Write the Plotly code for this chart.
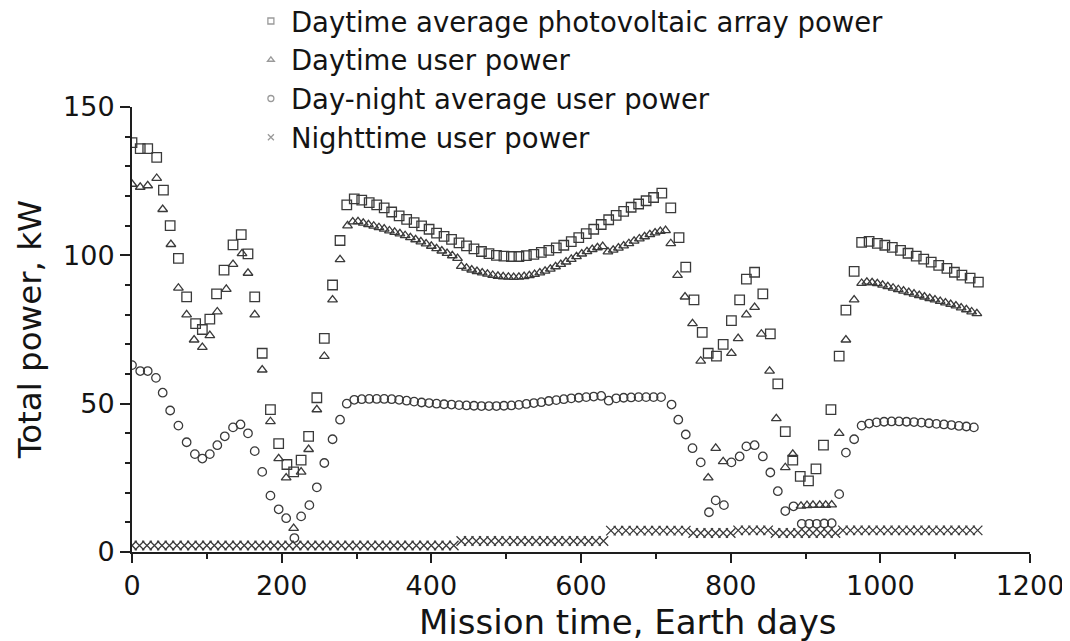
import plotly.graph_objects as go

# ---------------- data ----------------
pv_days = [0, 11, 21, 33, 42, 51, 62, 73, 85, 94, 104, 113, 123, 135, 146, 155, 164, 174, 185, 196,
           207, 216, 226, 236, 247, 257, 268, 278, 287,
           297, 307, 317, 327, 337, 347, 357, 367, 377, 387, 397, 407, 417, 427, 437, 447, 457, 467, 477, 487,
           497, 507, 517, 527, 537, 547, 557, 567, 577, 587, 597, 607, 617, 627, 637, 647, 657, 667, 677, 687,
           697, 708,
           720, 731, 740, 751, 762, 770, 781, 790, 801, 812, 821, 832, 843, 853, 863, 873, 883, 893, 904, 914,
           924, 934, 945, 954, 965,
           975, 985, 996, 1006, 1016, 1027, 1037, 1048, 1058, 1068, 1078, 1089, 1099, 1109, 1120, 1131]
pv_kw = [138, 136, 136, 133, 122, 110, 99, 86, 77, 75, 78.5, 87, 95, 103.5, 107, 100.5, 86, 67, 48, 36.5,
         29.5, 27, 31, 39, 52, 72, 90, 105, 117,
         119, 118.6, 117.8, 117, 116, 114.6, 113.3, 112.1, 111, 109.9, 108.8, 107.5, 106.4, 105.4, 104.2, 103.2,
         102.2, 101.3, 100.6, 100, 99.7, 99.6, 99.6, 99.9, 100.3, 101, 101.7, 102.5, 103.4, 104.6, 106, 107.3,
         108.8, 110.4, 112, 113.5, 114.8, 116.2, 117.3, 118.4, 119.5, 121,
         116, 106, 96, 85, 74, 67, 66, 70, 78, 85, 92, 94.3, 87, 73.5, 56.7, 40.6, 31, 25.5, 24, 28,
         36, 48, 66, 81.5, 94.6,
         104.4, 104.7, 104, 103.4, 102.7, 101.7, 100.7, 99.7, 98.7, 97.7, 96.6, 95.6, 94.3, 93.3, 92.3, 91]

user_days = [0, 11, 21, 33, 41, 52, 62, 73, 83, 94, 104, 114, 126, 135, 147, 155, 164, 174, 185, 196,
             206, 216, 226, 236, 247, 257, 268, 278,
             288, 295, 302, 309, 316, 323, 330, 337, 344, 351, 358, 365, 372, 379, 386, 393, 400, 407, 414,
             421, 428, 435,
             440, 447, 454, 461, 468, 475, 482, 489, 496, 503, 510, 517, 524, 531, 538, 545, 552, 559, 566,
             573, 580, 587, 594, 601, 608, 615, 622, 629, 636, 643, 650, 657, 664, 671, 678, 685, 692, 699,
             706, 713,
             720, 729, 739, 749, 760, 770, 780, 790, 801, 810, 821, 832, 841, 852, 861, 873, 883, 894, 902,
             910, 919, 927, 935, 945, 954, 965,
             975, 982, 989, 996, 1003, 1010, 1017, 1024, 1031, 1038, 1045, 1052, 1059, 1066, 1073, 1080,
             1087, 1094, 1101, 1108, 1115, 1122, 1129]
user_kw = [124, 123, 123.5, 126, 115.5, 103.7, 89, 80, 71.5, 69, 73, 81, 88.6, 97, 100.6, 94, 80, 61.4, 44, 31.5,
           25, 8, 27, 34.6, 48, 66, 85, 98.6,
           110, 111.3, 111.4, 110.9, 110.4, 109.9, 109.4, 108.9, 108.3, 107.8, 107.3, 106.7, 106.0, 105.3,
           104.6, 103.9, 103.1, 102.3, 101.5, 100.7, 99.9, 99.0,
           96.3, 95.7, 95.1, 94.6, 94.1, 93.7, 93.3, 93.0, 92.8, 92.7, 92.6, 92.7, 92.9, 93.2, 93.6, 94.1,
           94.7, 95.4, 96.2, 97.0, 97.8, 98.7, 99.6, 100.5, 101.3, 102.0, 102.6, 103.0, 101.2, 101.8, 102.5,
           103.2, 104.0, 104.8, 105.6, 106.3, 107.0, 107.6, 108.1, 108.4,
           104, 93.3, 86, 77, 64.4, 25, 35, 30.5, 67, 72, 80, 82.5, 73.5, 61, 45, 28.5, 33, 15.5, 15.7,
           15.8, 15.8, 15.8, 15.9, 40, 71.5, 85,
           90.6, 91, 90.8, 90.5, 90.0, 89.5, 89.0, 88.5, 88.0, 87.5, 87.0, 86.5, 86.0, 85.5, 85.0, 84.5,
           84.0, 83.5, 83.0, 82.3, 81.7, 81.0, 80.4]

avg_days = [0, 11, 21, 32, 41, 51, 62, 73, 84, 94, 104, 114, 124, 135, 145, 155, 164, 174, 185, 196,
            206, 217, 226, 237, 247, 257, 268, 278, 287,
            297, 307, 317, 327, 337, 347, 357, 367, 377, 387, 397, 407, 417, 427, 437, 447, 457, 467, 477,
            487, 497, 507, 517, 527, 537, 547, 557, 567, 577, 587, 597, 607, 617, 627, 637, 647, 657, 667,
            677, 687, 697, 707,
            721, 730, 740, 749, 760, 771, 780, 791, 801, 812, 821, 832, 843, 853, 863, 873, 884, 895, 905,
            915, 925, 935, 945, 954, 965,
            975, 985, 995, 1005, 1015, 1025, 1035, 1045, 1055, 1065, 1075, 1085, 1095, 1105, 1115, 1125]
avg_kw = [63, 61, 61, 58.7, 53.7, 47.7, 42.6, 37, 33, 31.5, 33, 36, 39, 42, 43, 40, 34, 27, 19, 14.4,
          11.4, 4.7, 12, 15.8, 21.8, 30, 38, 44.6, 50,
          51.3, 51.5, 51.6, 51.6, 51.6, 51.5, 51.3, 51, 50.7, 50.4, 50.2, 50, 49.8, 49.7, 49.5, 49.4, 49.3,
          49.2, 49.2, 49.2, 49.3, 49.4, 49.6, 49.9, 50.2, 50.5, 50.9, 51.2, 51.5, 51.8, 52, 52.2, 52.4, 52.6,
          51, 51.8, 52, 52.1, 52.2, 52.2, 52.2, 52.2,
          49.7, 44.6, 39.6, 35, 30.2, 13.4, 17.4, 15.8, 30.2, 32.2, 35.6, 36, 32.2, 26.8, 20.5, 13.8, 15.4,
          9.5, 9.5, 9.5, 9.6, 9.7, 19.5, 33.5, 38,
          42.6, 43.3, 43.7, 43.9, 44, 44, 43.9, 43.8, 43.6, 43.4, 43.2, 43, 42.8, 42.5, 42.3, 42.0]

night_days = [0, 10, 20, 30, 40, 50, 60, 70, 80, 90, 100, 110, 120, 130, 140, 150, 160, 170, 180, 190,
              200, 210, 220, 230, 240, 250, 260, 270, 280, 290, 300, 310, 320, 330, 340, 350, 360, 370,
              380, 390, 400, 410, 420, 430, 440, 450, 460, 470, 480, 490, 500, 510, 520, 530, 540, 550,
              560, 570, 580, 590, 600, 610, 620, 630, 640, 650, 660, 670, 680, 690, 700, 710, 720, 730,
              740, 750, 760, 770, 780, 790, 800, 810, 820, 830, 840, 850, 860, 870, 880, 890, 900, 910,
              920, 930, 940, 950, 960, 970, 980, 990, 1000, 1010, 1020, 1030, 1040, 1050, 1060, 1070,
              1080, 1090, 1100, 1110, 1120, 1130]
night_kw = [2.2, 2.2, 2.2, 2.2, 2.2, 2.2, 2.2, 2.2, 2.2, 2.2, 2.2, 2.2, 2.2, 2.2, 2.2, 2.2, 2.2, 2.2, 2.2, 2.2,
            2.2, 2.2, 2.2, 2.2, 2.2, 2.2, 2.2, 2.2, 2.2, 2.2, 2.2, 2.2, 2.2, 2.2, 2.2, 2.2, 2.2, 2.2,
            2.2, 2.2, 2.2, 2.2, 2.2, 2.2, 3.7, 3.7, 3.7, 3.7, 3.7, 3.7, 3.7, 3.7, 3.7, 3.7, 3.7, 3.7,
            3.7, 3.7, 3.7, 3.7, 3.7, 3.7, 3.7, 3.7, 7.2, 7.2, 7.2, 7.2, 7.2, 7.2, 7.2, 7.2, 7.2, 7.2,
            7.2, 6.4, 6.4, 6.4, 6.4, 6.4, 6.4, 7.3, 7.3, 7.3, 7.3, 7.3, 6.4, 6.4, 6.4, 6.4, 6.4, 6.4,
            6.4, 6.4, 6.4, 7.3, 7.3, 7.3, 7.3, 7.3, 7.3, 7.3, 7.3, 7.3, 7.3, 7.3, 7.3, 7.3,
            7.3, 7.3, 7.3, 7.3, 7.3, 7.3]

series_names = ["Daytime average photovoltaic array power", "Daytime user power",
                "Day-night average user power", "Nighttime user power"]
x_ticks = [0, 200, 400, 600, 800, 1000, 1200]
y_ticks = [0, 50, 100, 150]
x_title = "Mission time, Earth days"
y_title = "Total power, kW"

# ---------------- styling ----------------
FONT = "DejaVu Sans, Verdana, sans-serif"
TXT = "#141414"
MK = "#3a3a3a"
LEG = "#9a9a9a"

fig = go.Figure()
specs = [
    (pv_days, pv_kw, "square-open", 9.5),
    (user_days, user_kw, "triangle-up-open", 8.5),
    (avg_days, avg_kw, "circle-open", 8.5),
    (night_days, night_kw, "x-thin-open", 9.5),
]
for (xs, ys, sym, sz), name in zip(specs, series_names):
    fig.add_trace(go.Scatter(
        x=xs, y=ys, mode="markers", name=name, legendgroup=name, showlegend=False,
        marker=dict(symbol=sym, size=sz, color=MK, line=dict(color=MK, width=1.3)),
        hoverinfo="x+y"))
    # legend proxy (small grey symbol, as in the reference)
    fig.add_trace(go.Scatter(
        x=[None], y=[None], mode="markers", name=name, legendgroup=name, showlegend=True,
        marker=dict(symbol=sym, size=6, color=LEG, line=dict(color=LEG, width=1.3))))

fig.update_layout(
    width=1070, height=641,
    margin=dict(l=124, r=48, t=99, b=97, autoexpand=False),
    paper_bgcolor="white", plot_bgcolor="white",
    font=dict(family=FONT, size=27, color=TXT),
    legend=dict(
        xref="container", yref="paper", x=0.227, y=1.248, xanchor="left", yanchor="top",
        bgcolor="rgba(0,0,0,0)", font=dict(size=27.5, color=TXT),
        tracegroupgap=0, itemsizing="trace", itemwidth=30,
    ),
    xaxis=dict(
        range=[0, 1200], tickvals=x_ticks, ticktext=[str(v) for v in x_ticks],
        showgrid=False, zeroline=False, showline=True, linecolor="#1e1e1e", linewidth=2,
        ticks="outside", ticklen=9, tickwidth=2, tickcolor="#1e1e1e",
        minor=dict(dtick=100, ticks="outside", ticklen=5, tickwidth=1.5, tickcolor="#1e1e1e"),
        tickfont=dict(size=27),
    ),
    yaxis=dict(
        range=[0, 150], tickvals=y_ticks, ticktext=[str(v) for v in y_ticks],
        showgrid=False, zeroline=False, showline=True, linecolor="#1e1e1e", linewidth=2,
        ticks="outside", ticklen=10, tickwidth=2, tickcolor="#1e1e1e",
        minor=dict(dtick=10, ticks="outside", ticklen=5, tickwidth=1.5, tickcolor="#1e1e1e"),
        tickfont=dict(size=27),
    ),
    annotations=[
        dict(text=x_title, xref="paper", yref="paper", x=0.552, y=-0.158,
             xanchor="center", yanchor="middle", showarrow=False, font=dict(size=34, color=TXT)),
        dict(text=y_title, xref="paper", yref="paper", x=-0.114, y=0.5, textangle=-90,
             xanchor="center", yanchor="middle", showarrow=False, font=dict(size=32.5, color=TXT)),
    ],
)

fig.write_html("out.html")
